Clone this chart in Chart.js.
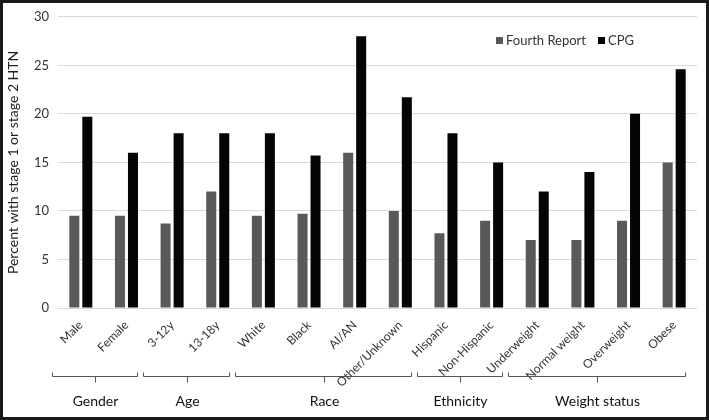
<!DOCTYPE html>
<html>
<head>
<meta charset="utf-8">
<script src="https://cdn.jsdelivr.net/npm/chart.js@4.4.0/dist/chart.umd.min.js"></script>
<style>
  html, body { margin: 0; padding: 0; background: #fff; }
  #wrap { width: 709px; height: 420px; position: relative; }
</style>
</head>
<body>
<div id="wrap"><canvas id="myBarChart"></canvas></div>
<script>
// Kategoriler ve seri değerleri
const categories = ['Male', 'Female', '3-12y', '13-18y', 'White', 'Black', 'AI/AN', 'Other/Unknown',
  'Hispanic', 'Non-Hispanic', 'Underweight', 'Normal weight', 'Overweight', 'Obese'];
const fourthReport = [9.5, 9.5, 8.7, 12, 9.5, 9.7, 16, 10, 7.7, 9, 7, 7, 9, 15];
const cpg = [19.7, 16, 18, 18, 18, 15.7, 28, 21.7, 18, 15, 12, 14, 20, 24.6];

// Alt gruplar (ilk ve son kategori indeksi)
const groupNames = ['Gender', 'Age', 'Race', 'Ethnicity', 'Weight status'];
const groupFirst = [0, 2, 4, 8, 10];
const groupLast = [1, 3, 7, 9, 13];

const FONT = 'Lato, "Open Sans", sans-serif';
const TEXT = '#333';

// Gruplar için köşeli parantez, lejant ve çerçeve
const extrasPlugin = {
  id: 'extras',
  afterDraw(chart) {
    const ctx = chart.ctx;
    const x = chart.scales.x;
    const step = x.getPixelForValue(1) - x.getPixelForValue(0);
    ctx.save();

    // gruplar
    ctx.strokeStyle = '#555';
    ctx.lineWidth = 1;
    ctx.fillStyle = '#111';
    ctx.font = '14px ' + FONT;
    ctx.textAlign = 'center';
    ctx.textBaseline = 'middle';
    const yLine = 376.5;
    groupNames.forEach((name, i) => {
      const x1 = Math.round(x.getPixelForValue(groupFirst[i]) - step / 2 - 6) + 0.5;
      const x2 = Math.round(x.getPixelForValue(groupLast[i]) + step / 2 - 12) + 0.5;
      const mid = Math.round((x1 + x2) / 2) + 0.5;
      ctx.beginPath();
      ctx.moveTo(x1, yLine - 4);
      ctx.lineTo(x1, yLine);
      ctx.lineTo(x2, yLine);
      ctx.lineTo(x2, yLine - 4);
      ctx.moveTo(mid, yLine);
      ctx.lineTo(mid, yLine + 6);
      ctx.stroke();
      ctx.fillText(name, mid, 401);
    });

    // lejant
    ctx.font = '13px ' + FONT;
    ctx.textAlign = 'left';
    let lx = 496;
    const ly = 40.5;
    chart.data.datasets.forEach(ds => {
      ctx.fillStyle = ds.backgroundColor;
      ctx.fillRect(lx, ly - 3.5, 7, 7);
      ctx.fillStyle = TEXT;
      ctx.fillText(ds.label, lx + 10, ly);
      lx += 10 + ctx.measureText(ds.label).width + 12;
    });

    // dış çerçeve
    ctx.strokeStyle = '#1a1a1a';
    ctx.lineWidth = 3;
    ctx.strokeRect(1.5, 1.5, chart.width - 3, chart.height - 3);
    ctx.restore();
  }
};

const ctx = document.getElementById('myBarChart').getContext('2d');
new Chart(ctx, {
  type: 'bar',
  data: {
    labels: categories,
    datasets: [
      { label: 'Fourth Report', data: fourthReport, backgroundColor: '#595959' },
      { label: 'CPG', data: cpg, backgroundColor: '#050505' }
    ]
  },
  options: {
    responsive: true,
    maintainAspectRatio: false,
    animation: false,
    devicePixelRatio: 1,
    datasets: { bar: { categoryPercentage: 0.57, barPercentage: 0.77 } },
    layout: { padding: { left: 4, right: 12, top: 8, bottom: 0 } },
    plugins: {
      legend: { display: false },
      tooltip: { enabled: false }
    },
    scales: {
      x: {
        grid: { display: false },
        border: { display: false },
        ticks: {
          color: TEXT,
          font: { family: FONT, size: 12 },
          maxRotation: 45,
          minRotation: 45,
          autoSkip: false,
          padding: 2
        },
        afterFit(scale) { scale.height = 112; }
      },
      y: {
        min: 0,
        max: 30,
        grid: { color: '#d9d9d9', drawTicks: false },
        border: { display: false },
        ticks: {
          stepSize: 5,
          color: TEXT,
          font: { family: FONT, size: 13 },
          padding: 9
        },
        title: {
          display: true,
          text: 'Percent with stage 1 or stage 2 HTN',
          color: '#222',
          font: { family: FONT, size: 14 },
          padding: { top: 1, bottom: 0 }
        },
        afterFit(scale) { scale.width = 54; }
      }
    }
  },
  plugins: [extrasPlugin]
});
</script>
</body>
</html>
